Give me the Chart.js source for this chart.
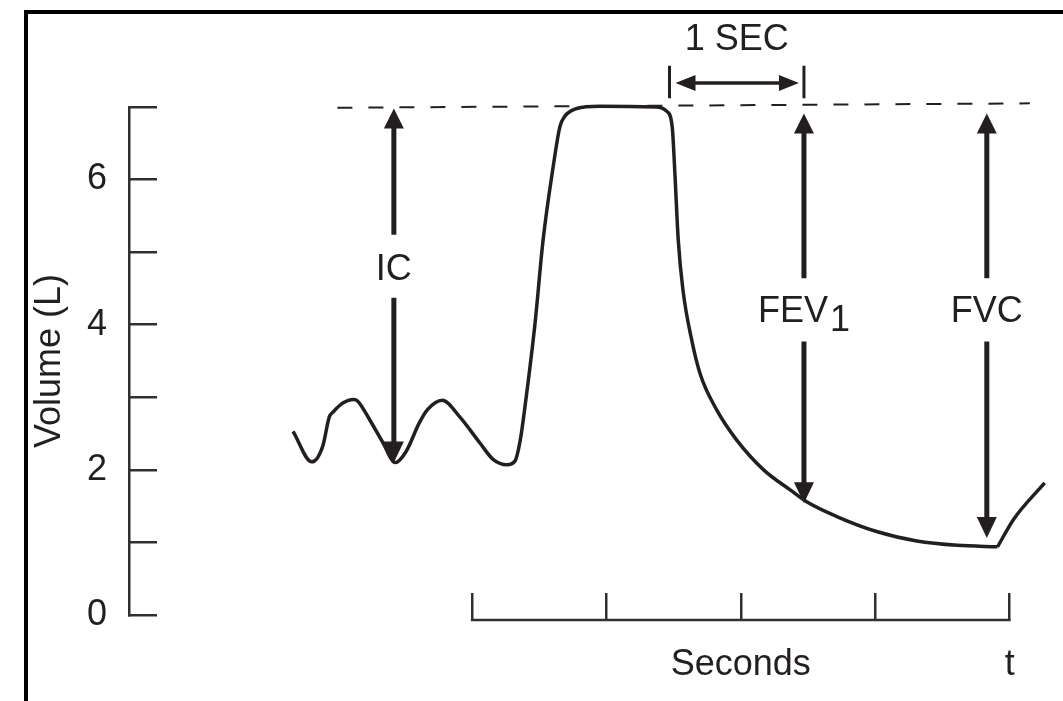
<!DOCTYPE html>
<html>
<head>
<meta charset="utf-8">
<script src="https://cdn.jsdelivr.net/npm/chart.js@4.4.1/dist/chart.umd.min.js"></script>
<style>
  html, body { margin: 0; padding: 0; background: #fff; }
  #wrap { width: 1063px; height: 701px; }
</style>
</head>
<body>
<div id="wrap"><canvas id="c" width="1063" height="701"></canvas></div>
<script>
// ---- data (time in seconds, volume in litres) ----
const timeSec = [-1.33, -1.19, -1.11, -1.06, -1.03, -0.96, -0.88, -0.85, -0.76, -0.66, -0.57, -0.49, -0.39, -0.33, -0.22, -0.09, 0.06, 0.16, 0.26, 0.32, 0.36, 0.395, 0.47, 0.53, 0.605, 0.655, 0.69, 0.78, 0.95, 1.37, 1.45, 1.49, 1.51, 1.535, 1.57, 1.635, 1.70, 1.82, 1.97, 2.17, 2.37, 2.49, 2.71, 3.01, 3.31, 3.61, 3.91, 4.03, 4.26];
const volumeL = [2.53, 2.11, 2.32, 2.73, 2.80, 2.92, 2.97, 2.95, 2.69, 2.37, 2.10, 2.25, 2.65, 2.83, 2.96, 2.73, 2.37, 2.14, 2.07, 2.12, 2.41, 2.87, 4.02, 5.17, 6.18, 6.73, 6.87, 6.98, 7.01, 7.00, 6.94, 6.73, 6.09, 5.17, 4.48, 3.79, 3.31, 2.83, 2.41, 2.00, 1.72, 1.56, 1.36, 1.15, 1.02, 0.96, 0.94, 1.32, 1.82];
const endOfExpirationSec = 3.91;

const yTickValues = [0, 1, 2, 3, 4, 5, 6, 7];
const yTickLabels = ['0', '', '2', '', '4', '', '6', ''];
const xTickValues = [0, 1, 2, 3, 4];
const xTickLabels = ['', '', 'Seconds', '', 't'];
const yAxisTitle = 'Volume (L)';

const refLineTime = [-1.0, 4.15];
const refLineVolume = [6.99, 7.05];

const arrowLabels = ['IC', 'FEV', 'FVC'];
const arrowSubscripts = ['', '1', ''];
const arrowTime = [-0.58, 2.47, 3.83];
const arrowTopVolume = [6.98, 6.91, 6.91];
const arrowBottomVolume = [2.10, 1.54, 1.06];
const arrowGapTopVolume = [5.24, 4.64, 4.64];
const arrowGapBottomVolume = [4.37, 3.77, 3.77];
const arrowLabelVolume = [4.75, 4.17, 4.17];

const secInterval = [1.47, 2.47];
const secLabel = '1 SEC';
const secBarVolume = [7.12, 7.57];
const secArrowVolume = 7.33;
const secLabelVolume = 7.92;

// ---- styles ----
const INK = '#231f20';
const AXIS = '#303030';
const FONT = '"Liberation Sans", Arial, Helvetica, sans-serif';
const FS = 36;

function vArrow(ctx, x, yFrom, yTip, headLen, headW, shaftW) {
  const dir = Math.sign(yTip - yFrom);
  const base = yTip - dir * headLen;
  ctx.lineWidth = shaftW;
  ctx.beginPath();
  ctx.moveTo(x, yFrom);
  ctx.lineTo(x, base + dir * 2);
  ctx.stroke();
  ctx.beginPath();
  ctx.moveTo(x, yTip);
  ctx.lineTo(x - headW / 2, base);
  ctx.lineTo(x + headW / 2, base);
  ctx.closePath();
  ctx.fill();
}
function hArrowHead(ctx, xTip, y, dir, headLen, headW) {
  ctx.beginPath();
  ctx.moveTo(xTip, y);
  ctx.lineTo(xTip - dir * headLen, y - headW / 2);
  ctx.lineTo(xTip - dir * headLen, y + headW / 2);
  ctx.closePath();
  ctx.fill();
}

const annot = {
  id: 'annot',
  beforeDraw(chart) {
    const ctx = chart.ctx;
    ctx.save();
    ctx.fillStyle = '#fff';
    ctx.fillRect(0, 0, chart.width, chart.height);
    ctx.fillStyle = '#000';
    ctx.fillRect(24, 10, chart.width - 24, 4);
    ctx.fillRect(24, 10, 4, chart.height - 10);
    ctx.restore();
  },
  afterLayout(chart) {
    const xs = chart.scales.x;
    xs.top += 5;
    xs.bottom += 5;
  },
  afterDraw(chart) {
    const ctx = chart.ctx;
    const xs = chart.scales.x, ys = chart.scales.y;
    ctx.save();
    // x baseline between first and last tick
    ctx.strokeStyle = AXIS;
    ctx.lineWidth = 2.5;
    ctx.beginPath();
    ctx.moveTo(xs.getPixelForValue(xTickValues[0]) - 1, xs.top);
    ctx.lineTo(xs.getPixelForValue(xTickValues[xTickValues.length - 1]) + 1, xs.top);
    ctx.stroke();

    ctx.strokeStyle = INK;
    ctx.fillStyle = INK;
    ctx.lineCap = 'butt';
    ctx.font = FS + 'px ' + FONT;
    ctx.textBaseline = 'middle';
    for (let i = 0; i < arrowLabels.length; i++) {
      const x = xs.getPixelForValue(arrowTime[i]);
      vArrow(ctx, x, ys.getPixelForValue(arrowGapTopVolume[i]), ys.getPixelForValue(arrowTopVolume[i]), 20, 20, 5);
      vArrow(ctx, x, ys.getPixelForValue(arrowGapBottomVolume[i]), ys.getPixelForValue(arrowBottomVolume[i]), 21, 20, 5);
      const ly = ys.getPixelForValue(arrowLabelVolume[i]);
      const w1 = ctx.measureText(arrowLabels[i]).width;
      const w2 = arrowSubscripts[i] ? ctx.measureText(arrowSubscripts[i]).width + 2 : 0;
      const x0 = x - (w1 + w2) / 2;
      ctx.textAlign = 'left';
      ctx.fillText(arrowLabels[i], x0, ly);
      if (arrowSubscripts[i]) ctx.fillText(arrowSubscripts[i], x0 + w1 + 2, ly + 9);
    }
    // 1 SEC bracket
    const bx0 = xs.getPixelForValue(secInterval[0]);
    const bx1 = xs.getPixelForValue(secInterval[1]);
    const byTop = ys.getPixelForValue(secBarVolume[1]);
    const byBot = ys.getPixelForValue(secBarVolume[0]);
    ctx.lineWidth = 3;
    ctx.beginPath();
    ctx.moveTo(bx0, byTop); ctx.lineTo(bx0, byBot);
    ctx.moveTo(bx1, byTop); ctx.lineTo(bx1, byBot);
    ctx.stroke();
    const ay = ys.getPixelForValue(secArrowVolume);
    ctx.lineWidth = 3.5;
    ctx.beginPath();
    ctx.moveTo(bx0 + 20, ay); ctx.lineTo(bx1 - 20, ay);
    ctx.stroke();
    hArrowHead(ctx, bx0 + 6, ay, -1, 20, 16);
    hArrowHead(ctx, bx1 - 5, ay, 1, 20, 16);
    ctx.textAlign = 'center';
    ctx.fillText(secLabel, (bx0 + bx1) / 2, ys.getPixelForValue(secLabelVolume));
    ctx.restore();
  }
};

const points = timeSec.map((t, i) => ({ x: t, y: volumeL[i] }));
const splitIdx = timeSec.indexOf(endOfExpirationSec);
const curveStyle = {
  borderColor: INK,
  borderWidth: 3.5,
  pointRadius: 0,
  cubicInterpolationMode: 'monotone',
  fill: false,
  clip: false
};

new Chart(document.getElementById('c'), {
  type: 'line',
  data: {
    datasets: [
      Object.assign({ label: 'Volume', data: points.slice(0, splitIdx + 1) }, curveStyle),
      Object.assign({ label: 'Volume (inspiration)', data: points.slice(splitIdx) }, curveStyle),
      {
        label: 'Max inspiration',
        data: refLineTime.map((t, i) => ({ x: t, y: refLineVolume[i] })),
        borderColor: INK,
        borderWidth: 2,
        borderDash: [15, 16],
        pointRadius: 0,
        tension: 0,
        fill: false,
        clip: false
      }
    ]
  },
  options: {
    responsive: false,
    animation: false,
    devicePixelRatio: 1,
    events: [],
    layout: { padding: { left: 0, top: 107, right: 13, bottom: 0 } },
    plugins: { legend: { display: false }, tooltip: { enabled: false } },
    scales: {
      x: {
        type: 'linear',
        position: 'bottom',
        min: -2.55,
        max: 4.3,
        afterBuildTicks: s => { s.ticks = xTickValues.map(v => ({ value: v })); },
        afterFit: s => { s.height = 86; s.paddingLeft = 0; s.paddingRight = 0; },
        border: { display: false },
        grid: { drawOnChartArea: false, drawTicks: true, tickLength: -27, color: AXIS, lineWidth: 2.5 },
        ticks: {
          autoSkip: false, maxRotation: 0, padding: 50, color: INK,
          font: { family: FONT, size: FS },
          callback: (v, i) => xTickLabels[i]
        }
      },
      y: {
        type: 'linear',
        position: 'left',
        min: 0,
        max: 7,
        afterBuildTicks: s => { s.ticks = yTickValues.map(v => ({ value: v })); },
        afterFit: s => { s.width = 129; s.paddingTop = 0; s.paddingBottom = 0; },
        border: { display: true, color: AXIS, width: 2.5 },
        grid: { drawOnChartArea: false, drawTicks: true, tickLength: -28, color: AXIS, lineWidth: 2.5 },
        ticks: {
          padding: 50, color: INK,
          font: { family: FONT, size: FS },
          callback: (v, i) => yTickLabels[i]
        },
        title: {
          display: true, text: yAxisTitle, color: INK,
          font: { family: FONT, size: FS },
          padding: { top: 28, bottom: 0 }
        }
      }
    }
  },
  plugins: [annot]
});
</script>
</body>
</html>
